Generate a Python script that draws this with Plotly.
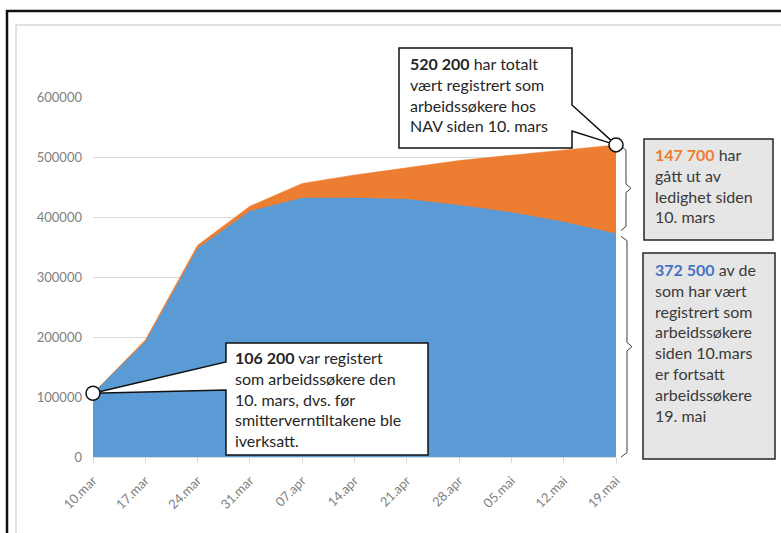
import plotly.graph_objects as go

# ---- data ----
day_offsets = [0, 7, 14, 21, 28, 35, 42, 49, 56, 63, 70]
tick_labels = ["10.mar", "17.mar", "24.mar", "31.mar", "07.apr", "14.apr",
               "21.apr", "28.apr", "05.mai", "12.mai", "19.mai"]
total_registered = [106200, 195000, 353000, 418000, 456000, 470000,
                    482000, 494000, 503000, 512000, 520200]
still_registered = [106200, 192000, 348000, 410000, 432000, 432000,
                    430000, 420000, 408000, 392000, 372500]
y_ticks = [0, 100000, 200000, 300000, 400000, 500000, 600000]

YMAX = 600000
XMAX = day_offsets[-1]

W, H = 781, 533
L, R, T, B = 93, 616, 97, 457  # plot area in pixels


def px(x):
    return (x - L) / (R - L)


def py(y):
    return (B - y) / (B - T)


def pv(v):
    return v / YMAX


def path(points):
    s = "M " + " L ".join(f"{x:.5f},{y:.5f}" for x, y in points) + " Z"
    return s


BLUE = "#5B9BD5"
ORANGE = "#ED7D31"
FONT = "Lato"

fig = go.Figure()
fig.add_trace(go.Scatter(x=day_offsets, y=total_registered, mode="lines",
                         line=dict(width=0.5, color=ORANGE), fill="tozeroy",
                         fillcolor=ORANGE, hoverinfo="skip", showlegend=False))
fig.add_trace(go.Scatter(x=day_offsets, y=still_registered, mode="lines",
                         line=dict(width=0, color=BLUE), fill="tozeroy",
                         fillcolor=BLUE, hoverinfo="skip", showlegend=False))

shapes = []
# outer black frame and inner grey chart frame
shapes.append(dict(type="rect", xref="paper", yref="paper", x0=px(7), x1=px(795),
                   y0=py(11), y1=py(560), line=dict(color="#111111", width=2.5)))
shapes.append(dict(type="rect", xref="paper", yref="paper", x0=px(16), x1=px(795),
                   y0=py(25), y1=py(560), line=dict(color="#D9D9D9", width=1.5)))

# top callout with wedge pointing at last total
tip_top = (1.0, pv(total_registered[-1]))
shapes.append(dict(type="path", xref="paper", yref="paper", layer="above",
                   path=path([(px(399), py(48)), (px(572), py(48)), (px(572), py(105)),
                              tip_top, (px(572), py(131)), (px(572), py(148)),
                              (px(399), py(148))]),
                   fillcolor="white", line=dict(color="#111111", width=1.5)))
# bottom callout with wedge pointing at first value
tip_bot = (0.0, pv(total_registered[0]))
shapes.append(dict(type="path", xref="paper", yref="paper", layer="above",
                   path=path([(px(226), py(343)), (px(428), py(343)), (px(428), py(455)),
                              (px(226), py(455)), (px(226), py(390)), tip_bot,
                              (px(226), py(362))]),
                   fillcolor="white", line=dict(color="#111111", width=1.5)))

# right grey boxes
shapes.append(dict(type="rect", xref="paper", yref="paper", x0=px(644), x1=px(773),
                   y0=py(139), y1=py(240), fillcolor="#E7E6E6",
                   line=dict(color="#262626", width=1.5)))
shapes.append(dict(type="rect", xref="paper", yref="paper", x0=px(643), x1=px(775),
                   y0=py(253), y1=py(459), fillcolor="#E7E6E6",
                   line=dict(color="#262626", width=1.5)))


def brace(y_top, y_bot, x0, x1, x2):
    ym = (y_top + y_bot) / 2
    d = 0.012
    pts = [(x0, y_top), (x1, y_top - d), (x1, ym + d), (x2, ym), (x1, ym - d),
           (x1, y_bot + d), (x0, y_bot)]
    return "M " + " L ".join(f"{x:.5f},{y:.5f}" for x, y in pts)


shapes.append(dict(type="path", xref="paper", yref="paper",
                   path=brace(pv(total_registered[-1]) - 0.003, pv(still_registered[-1]) + 0.008,
                              px(621), px(626), px(631)),
                   line=dict(color="#404040", width=1)))
shapes.append(dict(type="path", xref="paper", yref="paper",
                   path=brace(pv(still_registered[-1]) - 0.008, pv(0),
                              px(621), px(627), px(632)),
                   line=dict(color="#404040", width=1)))

# circles at the two highlighted points
for xi, yi in [(0, 0), (len(day_offsets) - 1, len(day_offsets) - 1)]:
    cx = day_offsets[xi] / XMAX
    cy = pv(total_registered[yi])
    shapes.append(dict(type="circle", xref="paper", yref="paper",
                       xsizemode="pixel", ysizemode="pixel", xanchor=cx, yanchor=cy,
                       x0=-7, x1=7, y0=-7, y1=7, fillcolor="white",
                       line=dict(color="#111111", width=1.5)))

TXT = "#262626"
GREY_TXT = "#3A3A3A"
annotations = [
    dict(xref="paper", yref="paper", x=px(408), y=py(52), xanchor="left", yanchor="top",
         align="left", showarrow=False, font=dict(family=FONT, size=16, color=TXT),
         text=f"<b>{total_registered[-1]:,}</b>".replace(",", " ")
              + " har totalt<br>vært registrert som<br>arbeidssøkere hos<br>NAV siden 10. mars"),
    dict(xref="paper", yref="paper", x=px(233), y=py(346), xanchor="left", yanchor="top",
         align="left", showarrow=False, font=dict(family=FONT, size=16, color=TXT),
         text=f"<b>{total_registered[0]:,}</b>".replace(",", " ")
              + " var registert<br>som arbeidssøkere den<br>10. mars, dvs. før"
                "<br>smitterverntiltakene ble<br>iverksatt."),
    dict(xref="paper", yref="paper", x=px(653), y=py(143), xanchor="left", yanchor="top",
         align="left", showarrow=False, font=dict(family=FONT, size=16, color=GREY_TXT),
         text=f"<b><span style='color:{ORANGE}'>"
              + f"{total_registered[-1] - still_registered[-1]:,}".replace(",", " ")
              + "</span></b> har<br>gått ut av<br>ledighet siden<br>10. mars"),
    dict(xref="paper", yref="paper", x=px(653), y=py(258), xanchor="left", yanchor="top",
         align="left", showarrow=False, font=dict(family=FONT, size=16, color=GREY_TXT),
         text="<b><span style='color:#4472C4'>"
              + f"{still_registered[-1]:,}".replace(",", " ")
              + "</span></b> av de<br>som har vært<br>registrert som<br>arbeidssøkere"
                "<br>siden 10.mars<br>er fortsatt<br>arbeidssøkere<br>19. mai"),
]

fig.update_layout(
    width=W, height=H, autosize=False,
    margin=dict(l=L, r=W - R, t=T, b=H - B, pad=0),
    paper_bgcolor="white", plot_bgcolor="white",
    shapes=shapes, annotations=annotations,
    showlegend=False,
    font=dict(family=FONT, color="#7F7F7F"),
    xaxis=dict(range=[0, XMAX], tickvals=day_offsets, ticktext=tick_labels,
               tickangle=-45, ticks="outside", ticklen=5, tickcolor="#D9D9D9",
               showline=True, linecolor="#D9D9D9", linewidth=1, showgrid=False,
               zeroline=False, ticklabelstandoff=5,
               tickfont=dict(family=FONT, size=13, color="#7F7F7F"),
               fixedrange=True),
    yaxis=dict(range=[0, YMAX], tickvals=y_ticks, tickformat="d", showgrid=True,
               gridcolor="#D9D9D9", gridwidth=1, zeroline=False, showline=False,
               ticks="", ticklabelstandoff=10,
               tickfont=dict(family=FONT, size=13, color="#7F7F7F"), fixedrange=True),
)

fig.write_html("out.html", config={"displayModeBar": False},
               post_script="document.body.style.margin='0';document.body.style.overflow='hidden';")
